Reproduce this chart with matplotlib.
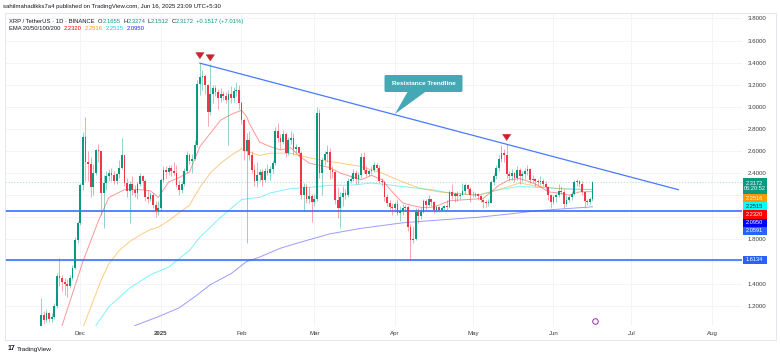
import numpy as np
import pandas as pd
import matplotlib
matplotlib.use('Agg')
import matplotlib.pyplot as plt
import matplotlib.dates as mdates
from matplotlib.patches import Rectangle, FancyBboxPatch, Polygon
from matplotlib.transforms import blended_transform_factory

plt.rcParams['font.family'] = ['Liberation Sans', 'DejaVu Sans']

# XRP / TetherUS daily candles (Nov 16 2024 .. Jun 16 2025)
first_day = '2024-11-16'
first_open = 1.02
closes = [
    1.12, 1.07, 1.13, 1.08, 1.10, 1.20, 1.47, 1.45, 1.41, 1.40, 1.38, 1.45, 1.54, 1.79, 1.95,
    2.29, 2.73, 2.50, 2.48, 2.27, 2.40, 2.61, 2.60, 2.22, 2.31, 2.37, 2.40, 2.38, 2.33, 2.39, 2.45,
    2.56, 2.31, 2.24, 2.30, 2.25, 2.22, 2.30, 2.37, 2.33, 2.18, 2.17, 2.20, 2.11, 2.06, 2.08,
    2.34, 2.43, 2.41, 2.45, 2.42, 2.40, 2.29, 2.25, 2.30, 2.42, 2.56, 2.51, 2.53, 2.65, 3.21, 3.27,
    3.28, 3.20, 2.95, 3.12, 3.17, 3.13, 3.08, 3.12, 3.10, 3.06, 3.12, 3.08, 3.14, 3.15, 3.03,
    2.88, 2.60, 2.70, 2.56, 2.43, 2.33, 2.38, 2.41, 2.34, 2.42, 2.40, 2.44, 2.49, 2.78,
    2.72, 2.68, 2.75, 2.58, 2.70, 2.72, 2.62, 2.64, 2.58, 2.20, 2.27, 2.17, 2.19, 2.14,
    2.17, 2.94, 2.40, 2.52, 2.57, 2.59, 2.43, 2.41, 2.16, 2.08, 2.18, 2.22, 2.20, 2.33, 2.35, 2.40,
    2.35, 2.38, 2.55, 2.43, 2.39, 2.42, 2.43, 2.47, 2.45, 2.33, 2.32, 2.18, 2.13, 2.09, 2.08,
    2.12, 2.04, 2.06, 2.08, 2.09, 1.91, 1.79, 1.80, 2.05, 2.01, 2.05, 2.15, 2.11, 2.17, 2.14,
    2.07, 2.09, 2.07, 2.08, 2.10, 2.09, 2.23, 2.19, 2.21, 2.19, 2.20, 2.24, 2.29, 2.26, 2.20,
    2.20, 2.21, 2.19, 2.16, 2.14, 2.13, 2.13, 2.32, 2.37, 2.45, 2.53, 2.58, 2.56, 2.39, 2.37, 2.40,
    2.36, 2.43, 2.37, 2.39, 2.42, 2.44, 2.34, 2.35, 2.33, 2.32, 2.33, 2.30, 2.27, 2.20, 2.14,
    2.18, 2.20, 2.24, 2.23, 2.12, 2.16, 2.18, 2.21, 2.32, 2.33, 2.30, 2.23, 2.15, 2.14, 2.1655, 2.3172,
]
highs = [
    1.27, 1.15, 1.17, 1.14, 1.13, 1.22, 1.50, 1.63, 1.48, 1.45, 1.44, 1.48, 1.57, 1.82, 1.97,
    2.31, 2.77, 2.91, 2.60, 2.55, 2.48, 2.62, 2.66, 2.60, 2.38, 2.42, 2.44, 2.45, 2.42, 2.40, 2.52,
    2.72, 2.56, 2.36, 2.33, 2.37, 2.29, 2.32, 2.40, 2.38, 2.35, 2.25, 2.23, 2.22, 2.15, 2.15,
    2.36, 2.46, 2.46, 2.47, 2.47, 2.50, 2.47, 2.34, 2.33, 2.45, 2.60, 2.58, 2.57, 2.70, 3.24, 3.40,
    3.33, 3.30, 3.21, 3.39, 3.20, 3.20, 3.16, 3.17, 3.14, 3.13, 3.15, 3.19, 3.18, 3.22, 3.20,
    3.05, 2.90, 2.76, 2.78, 2.60, 2.48, 2.50, 2.44, 2.44, 2.45, 2.48, 2.46, 2.52, 2.82,
    2.85, 2.75, 2.79, 2.77, 2.73, 2.78, 2.76, 2.66, 2.64, 2.60, 2.31, 2.30, 2.27, 2.21,
    2.21, 3.00, 2.98, 2.55, 2.60, 2.65, 2.63, 2.46, 2.42, 2.27, 2.23, 2.28, 2.26, 2.36, 2.38, 2.44,
    2.43, 2.41, 2.58, 2.59, 2.46, 2.44, 2.46, 2.50, 2.49, 2.47, 2.36, 2.34, 2.21, 2.16, 2.13,
    2.14, 2.17, 2.10, 2.12, 2.11, 2.11, 1.94, 1.92, 2.08, 2.08, 2.09, 2.17, 2.17, 2.20, 2.17,
    2.15, 2.11, 2.10, 2.10, 2.11, 2.16, 2.25, 2.30, 2.23, 2.24, 2.22, 2.31, 2.31, 2.30, 2.27,
    2.24, 2.23, 2.22, 2.20, 2.17, 2.16, 2.17, 2.34, 2.40, 2.47, 2.56, 2.65, 2.62, 2.66, 2.42, 2.44,
    2.41, 2.46, 2.45, 2.42, 2.45, 2.47, 2.45, 2.38, 2.36, 2.35, 2.37, 2.35, 2.33, 2.28, 2.21,
    2.20, 2.22, 2.30, 2.28, 2.26, 2.20, 2.20, 2.24, 2.34, 2.35, 2.34, 2.33, 2.24, 2.17, 2.18, 2.3274,
]
lows = [
    1.00, 1.03, 1.05, 1.05, 1.05, 1.08, 1.18, 1.38, 1.33, 1.30, 1.28, 1.36, 1.43, 1.53, 1.77,
    1.93, 2.25, 2.33, 2.33, 2.18, 2.20, 2.38, 2.50, 2.02, 1.90, 2.25, 2.33, 2.33, 2.30, 2.30, 2.36,
    2.44, 2.28, 2.18, 1.95, 2.20, 2.18, 2.17, 2.28, 2.26, 2.15, 2.13, 2.15, 2.08, 2.00, 2.02,
    2.07, 2.32, 2.36, 2.38, 2.37, 2.38, 2.27, 2.20, 2.22, 2.28, 2.40, 2.48, 2.40, 2.52, 2.64, 3.11,
    3.15, 3.12, 2.83, 2.93, 3.03, 3.10, 2.98, 3.04, 3.06, 3.03, 2.65, 3.03, 3.04, 3.10, 2.98,
    2.84, 2.52, 1.77, 2.52, 2.40, 2.28, 2.27, 2.33, 2.28, 2.32, 2.38, 2.34, 2.40, 2.47,
    2.68, 2.62, 2.66, 2.55, 2.56, 2.66, 2.56, 2.58, 2.55, 2.17, 2.06, 2.13, 2.13, 1.96,
    2.10, 2.15, 2.36, 2.20, 2.47, 2.50, 2.35, 2.36, 2.12, 1.99, 1.90, 2.10, 2.17, 2.18, 2.31, 2.33,
    2.30, 2.30, 2.36, 2.40, 2.37, 2.37, 2.39, 2.41, 2.42, 2.31, 2.28, 2.15, 2.10, 2.07, 2.02,
    2.05, 2.02, 1.97, 2.02, 2.06, 1.88, 1.61, 1.77, 1.79, 1.95, 1.98, 2.04, 2.07, 2.10, 2.10,
    2.04, 2.05, 2.05, 2.06, 2.07, 2.07, 2.08, 2.17, 2.14, 2.15, 2.17, 2.20, 2.21, 2.22, 2.14,
    2.18, 2.18, 2.16, 2.14, 2.08, 2.09, 2.10, 2.13, 2.29, 2.35, 2.42, 2.50, 2.50, 2.36, 2.33, 2.34,
    2.32, 2.34, 2.30, 2.33, 2.35, 2.38, 2.31, 2.32, 2.28, 2.29, 2.29, 2.28, 2.25, 2.16, 2.08,
    2.12, 2.14, 2.18, 2.21, 2.08, 2.10, 2.14, 2.16, 2.20, 2.28, 2.27, 2.20, 2.08, 2.11, 2.12, 2.1512,
]

# EMA lines, sampled off the chart
ema20_dates = ['2024-11-24', '2024-12-02', '2024-12-08', '2024-12-12', '2024-12-18', '2024-12-24',
               '2024-12-28', '2024-12-31', '2025-01-04', '2025-01-08', '2025-01-12', '2025-01-16',
               '2025-01-20', '2025-01-24', '2025-01-28', '2025-02-01', '2025-02-03', '2025-02-04',
               '2025-02-08', '2025-02-12', '2025-02-16', '2025-02-20', '2025-02-23', '2025-02-27',
               '2025-03-03', '2025-03-07', '2025-03-11', '2025-03-15', '2025-03-19', '2025-03-23',
               '2025-03-27', '2025-03-31', '2025-04-04', '2025-04-07', '2025-04-11', '2025-04-15',
               '2025-04-18', '2025-04-22', '2025-05-05', '2025-05-11', '2025-05-15', '2025-05-19',
               '2025-05-23', '2025-05-26', '2025-05-30', '2025-06-03', '2025-06-07', '2025-06-11',
               '2025-06-16']
ema20_vals = [1.02, 1.60, 1.97, 2.18, 2.25, 2.25, 2.24, 2.18, 2.32, 2.36, 2.41, 2.64, 2.76, 2.88,
              2.93, 2.97, 2.91, 2.85, 2.68, 2.64, 2.61, 2.63, 2.56, 2.49, 2.47, 2.45, 2.40, 2.37,
              2.34, 2.38, 2.34, 2.23, 2.13, 2.11, 2.09, 2.09, 2.11, 2.15, 2.17, 2.29, 2.34, 2.35,
              2.32, 2.29, 2.23, 2.22, 2.20, 2.23, 2.232]
ema50_dates = ['2024-12-02', '2024-12-09', '2024-12-12', '2024-12-16', '2024-12-20', '2024-12-24',
               '2024-12-28', '2024-12-31', '2025-01-04', '2025-01-08', '2025-01-12', '2025-01-16',
               '2025-01-20', '2025-01-24', '2025-01-28', '2025-02-01', '2025-02-04', '2025-02-08',
               '2025-02-12', '2025-02-20', '2025-02-23', '2025-03-03', '2025-03-11', '2025-03-19',
               '2025-03-27', '2025-04-04', '2025-04-11', '2025-04-18', '2025-04-22', '2025-05-03',
               '2025-05-11', '2025-05-19', '2025-05-26', '2025-06-03', '2025-06-11', '2025-06-16']
ema50_vals = [1.00, 1.43, 1.58, 1.70, 1.78, 1.84, 1.89, 1.91, 1.97, 2.04, 2.11, 2.27, 2.40, 2.49,
              2.56, 2.62, 2.59, 2.56, 2.58, 2.58, 2.56, 2.52, 2.49, 2.46, 2.40, 2.32, 2.26, 2.23,
              2.22, 2.20, 2.25, 2.31, 2.28, 2.26, 2.25, 2.2516]
ema100_dates = ['2024-12-07', '2024-12-12', '2024-12-20', '2024-12-28', '2025-01-04', '2025-01-12',
                '2025-01-16', '2025-01-20', '2025-01-24', '2025-01-28', '2025-02-01', '2025-02-04',
                '2025-02-08', '2025-02-12', '2025-02-20', '2025-02-27', '2025-03-07', '2025-03-15',
                '2025-03-23', '2025-03-31', '2025-04-07', '2025-04-15', '2025-04-22', '2025-05-03',
                '2025-05-11', '2025-05-19', '2025-05-26', '2025-06-03', '2025-06-16']
ema100_vals = [1.02, 1.19, 1.36, 1.48, 1.55, 1.70, 1.82, 1.91, 2.00, 2.08, 2.16, 2.17, 2.18, 2.22,
               2.26, 2.27, 2.29, 2.29, 2.31, 2.29, 2.27, 2.25, 2.22, 2.20, 2.25, 2.28, 2.27, 2.26,
               2.2515]
ema200_dates = ['2024-12-22', '2024-12-31', '2025-01-08', '2025-01-14', '2025-01-20', '2025-01-28',
                '2025-02-03', '2025-02-08', '2025-02-16', '2025-02-23', '2025-03-07', '2025-03-19',
                '2025-04-04', '2025-04-15', '2025-05-03', '2025-05-15', '2025-05-26', '2025-06-07',
                '2025-06-16']
ema200_vals = [1.02, 1.10, 1.18, 1.28, 1.39, 1.49, 1.60, 1.64, 1.72, 1.77, 1.85, 1.90, 1.95, 1.97,
               2.00, 2.03, 2.06, 2.08, 2.095]

support_levels = [2.0591, 1.6134]
trend_dates = ['2025-01-16', '2025-07-19']
trend_vals = [3.395, 2.25]
peak_dates = ['2025-01-16', '2025-01-20', '2025-05-14']
peak_vals = [3.41, 3.39, 2.67]
ema_last = [2.2320, 2.2516, 2.2515, 2.0950]

GREEN = '#089981'
RED = '#f23645'
BLUE = '#2962ff'
DARK = '#131722'
W, H = 780, 358

dates = mdates.date2num(pd.date_range(first_day, periods=len(closes)))
opens = [first_open] + closes[:-1]
o = np.array(opens); c = np.array(closes)
cols = np.where(c >= o, GREEN, RED)

fig = plt.figure(figsize=(W / 100, H / 100), dpi=100)
ax = fig.add_axes([5 / W, 1 - 326 / H, 737 / W, 313 / H])
for s in ax.spines.values():
    s.set_visible(False)

dec1 = mdates.date2num(pd.Timestamp('2024-12-01'))
ax.set_xlim(dec1 - 28.96, dec1 + 254.5)
ax.set_ylim(1.016, 3.849)

def dn(s):
    return mdates.date2num(pd.Timestamp(s))

# EMAs
for d, v, col in [(ema200_dates, ema200_vals, '#3a3aff'), (ema100_dates, ema100_vals, '#00e5ff'),
                  (ema50_dates, ema50_vals, '#ff9800'), (ema20_dates, ema20_vals, '#ff3030')]:
    ax.plot(mdates.date2num(pd.to_datetime(d)), v, color=col, lw=0.7, alpha=0.5, zorder=2)

# horizontal levels + trendline
for lv in support_levels:
    ax.axhline(lv, color=BLUE, lw=1.1, zorder=3)
ax.axhline(closes[-1], color=GREEN, lw=0.6, ls=(0, (1.5, 2)), alpha=0.35, zorder=1)
ax.plot(mdates.date2num(pd.to_datetime(trend_dates)), trend_vals, color=BLUE, lw=0.9, alpha=0.85, zorder=3)

# candles
ax.vlines(dates, lows, highs, colors=cols, lw=0.55, alpha=0.55, zorder=4)
body = np.maximum(np.abs(c - o), 0.006)
ax.bar(dates, body, bottom=np.minimum(o, c), width=0.7, color=cols, lw=0, zorder=5)

# red arrows at the touches
for d, v in zip(peak_dates, peak_vals):
    ax.annotate('', xy=(dn(d), v), xytext=(0, 8.5), textcoords='offset points',
                arrowprops=dict(arrowstyle='simple,head_length=0.55,head_width=0.75,tail_width=0.4',
                                mutation_scale=8, fc='#c8242f', ec='#c8242f', lw=0.3), zorder=6)

# callout
box = FancyBboxPatch((dn('2025-03-28'), 3.134), dn('2025-04-27') - dn('2025-03-28'), 0.154,
                     boxstyle='round,pad=0,rounding_size=0.5', mutation_aspect=0.03,
                     fc='#45a9b5', ec='none', zorder=7)
ax.add_patch(box)
ax.add_patch(Polygon([(dn('2025-04-06'), 3.14), (dn('2025-04-13'), 3.14), (dn('2025-04-01'), 2.935)],
                     closed=True, fc='#45a9b5', ec='none', zorder=7))
ax.text((dn('2025-03-28') + dn('2025-04-27')) / 2, 3.211, 'Resistance Trendline', color='white',
        fontsize=4.6, ha='center', va='center', fontweight='bold', zorder=8)

# price tags on the right scale (stacked so they don't collide)
tr = blended_transform_factory(ax.transAxes, ax.transData)
tag_h = 0.073
x0, x1 = 1.0007, 1.034
spans = []
def tag(yc, h, col, txt, tcol='white'):
    ax.add_patch(Rectangle((x0, yc - h / 2), x1 - x0, h, transform=tr, fc=col, ec='none',
                           clip_on=False, zorder=9))
    ax.text((x0 + x1) / 2, yc, txt, transform=tr, ha='center', va='center', fontsize=4.1,
            color=tcol, clip_on=False, zorder=10, linespacing=1.05)
    spans.append((yc - h / 2 - 0.03, yc + h / 2 + 0.03))

top = closes[-1] + tag_h / 2
tag(top - tag_h, 2 * tag_h, GREEN, '%.4f\n06:20:52' % closes[-1])
bottom = top - 2 * tag_h
for v, col, tcol in [(ema_last[1], '#ff9800', 'white'), (ema_last[2], '#00ffff', DARK),
                     (ema_last[0], '#ff0000', 'white'), (ema_last[3], '#0000ff', 'white'),
                     (support_levels[0], BLUE, 'white')]:
    yc = min(v, bottom - tag_h / 2)
    tag(yc, tag_h, col, '%.4f' % v, tcol)
    bottom = yc - tag_h / 2
tag(support_levels[1], tag_h, BLUE, '%.4f' % support_levels[1])

# axes: price scale on the right, labels hidden under the tags
def price_fmt(v, p):
    if any(lo < v < hi for lo, hi in spans):
        return ''
    return '%.4f' % v
ax.set_yticks(np.arange(1.2, 3.81, 0.2))
ax.yaxis.set_major_formatter(plt.FuncFormatter(price_fmt))
ax.yaxis.tick_right()
ax.xaxis.set_major_locator(mdates.MonthLocator())
ax.xaxis.set_major_formatter(plt.FuncFormatter(
    lambda v, p: '2025' if mdates.num2date(v).month == 1 else mdates.num2date(v).strftime('%b')))
ax.tick_params(axis='both', length=0, labelsize=4.4, colors='#3c3c3c')
ax.tick_params(axis='y', pad=4)
ax.tick_params(axis='x', pad=3.5)
ax.grid(True, color='#f0f3fa', lw=0.6)
ax.set_axisbelow(True)

fig.canvas.draw()
for lab in ax.get_xticklabels():
    if lab.get_text() == '2025':
        lab.set_fontweight('bold')

# header texts
renderer = fig.canvas.get_renderer()
def segments(x, y, parts, size):
    for txt, col, gap in parts:
        t = fig.text(x / W, 1 - y / H, txt, color=col, fontsize=size, ha='left', va='center')
        x += t.get_window_extent(renderer).width + gap

fig.text(3 / W, 1 - 6.5 / H, 'sahilmahadikks7a4 published on TradingView.com, Jun 16, 2025 23:09 UTC+5:30',
         fontsize=4.3, color=DARK, va='center')
segments(9, 21.5, [('XRP / TetherUS · 1D · BINANCE', DARK, 3.5), ('O', DARK, 0), ('2.1655', GREEN, 2.5),
                   ('H', DARK, 0), ('2.3274', GREEN, 2.5), ('L', DARK, 0), ('2.1512', GREEN, 2.5),
                   ('C', DARK, 0), ('2.3172', GREEN, 2.5), ('+0.1517 (+7.01%)', GREEN, 0)], 4.2)
segments(9, 29, [('EMA 20/50/100/200', DARK, 3.5), ('2.2320', '#ff0000', 3), ('2.2516', '#ff9800', 3),
                 ('2.2515', '#00d0e8', 3), ('2.0950', '#2020ff', 0)], 4.2)

# small marker at last bar on time scale, chart frame, logo
ax.plot([dates[-1] + 1], [0.016], marker='o', ms=4, mfc='none', mec='#9c27b0', mew=0.7,
        transform=blended_transform_factory(ax.transData, ax.transAxes), clip_on=False, zorder=9)
fig.patches.append(Rectangle((4.5 / W, 1 - 340 / H), 771 / W, 327 / H, transform=fig.transFigure,
                             fill=False, ec='#e0e3eb', lw=0.6))
fig.text(8 / W, 1 - 349 / H, '17', fontsize=5, fontweight='bold', color=DARK, va='center')
fig.text(17 / W, 1 - 349 / H, 'TradingView', fontsize=4.6, color=DARK, va='center')

fig.savefig('out.png', dpi=100)
